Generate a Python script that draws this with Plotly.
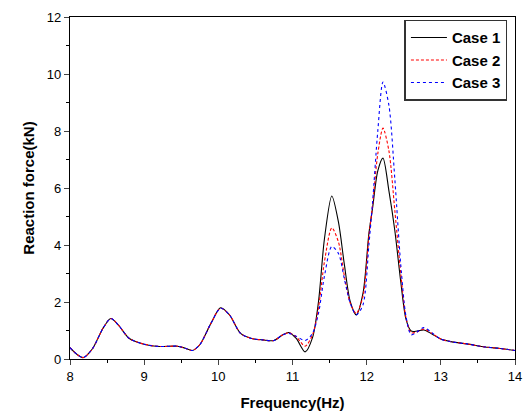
import plotly.graph_objects as go

freq = [8.0, 8.1, 8.18, 8.3, 8.45, 8.55, 8.65, 8.8, 9.0, 9.2, 9.45, 9.55, 9.65, 9.75, 9.9,
        10.03, 10.15, 10.3, 10.45, 10.6, 10.75, 10.87, 10.95, 11.05, 11.17, 11.27, 11.35,
        11.43, 11.53, 11.62, 11.7, 11.78, 11.86, 11.95, 12.03, 12.08, 12.15, 12.22, 12.3,
        12.38, 12.46, 12.53, 12.6, 12.68, 12.77, 12.88, 13.0, 13.15, 13.35, 13.6, 13.8, 14.0]

case1 = [0.4, 0.15, 0.05, 0.35, 1.1, 1.42, 1.2, 0.72, 0.52, 0.44, 0.45, 0.38, 0.3, 0.5, 1.25,
         1.8, 1.55, 0.9, 0.72, 0.67, 0.65, 0.85, 0.93, 0.72, 0.25, 0.75, 2.0,
         4.2, 5.72, 4.8, 3.3, 2.0, 1.55, 2.3, 4.4, 5.3, 6.6, 7.05, 5.9,
         4.5, 2.7, 1.4, 0.98, 0.98, 1.02, 0.88, 0.7, 0.6, 0.53, 0.42, 0.37, 0.3]

case2 = [0.4, 0.15, 0.05, 0.35, 1.1, 1.42, 1.2, 0.72, 0.52, 0.44, 0.45, 0.38, 0.3, 0.5, 1.25,
         1.78, 1.55, 0.9, 0.72, 0.67, 0.65, 0.85, 0.92, 0.78, 0.45, 0.85, 1.8,
         3.4, 4.6, 4.1, 2.9, 1.95, 1.6, 2.2, 4.3, 5.4, 7.2, 8.1, 7.3,
         5.2, 3.0, 1.45, 0.92, 0.95, 1.05, 0.9, 0.7, 0.6, 0.53, 0.42, 0.37, 0.3]

case3 = [0.4, 0.15, 0.05, 0.35, 1.1, 1.42, 1.2, 0.72, 0.52, 0.44, 0.45, 0.38, 0.3, 0.5, 1.25,
         1.78, 1.55, 0.9, 0.72, 0.67, 0.65, 0.85, 0.9, 0.8, 0.65, 0.9, 1.6,
         2.9, 3.95, 3.7, 2.8, 1.95, 1.55, 1.9, 4.0, 5.5, 8.0, 9.72, 8.9,
         6.3, 3.3, 1.5, 0.85, 0.95, 1.1, 0.92, 0.7, 0.6, 0.53, 0.42, 0.37, 0.3]

names = ["<b>Case 1</b>", "<b>Case 2</b>", "<b>Case 3</b>"]
colors = ["black", "red", "blue"]
dashes = ["solid", "3px,2px", "dot"]

fig = go.Figure()
for y, n, c, d in zip([case1, case2, case3], names, colors, dashes):
    fig.add_trace(go.Scatter(x=freq, y=y, mode="lines", name=n,
                             line=dict(color=c, dash=d, width=1.1, shape="spline", smoothing=0.8)))

font_family = "Liberation Sans, Arial, sans-serif"
fig.update_layout(
    width=523, height=408,
    margin=dict(l=62, r=16, t=9, b=57, autoexpand=False),
    paper_bgcolor="white", plot_bgcolor="white",
    font=dict(family=font_family, size=13, color="black"),
    showlegend=True,
    legend=dict(x=0.983, y=0.992, xanchor="right", yanchor="top",
                bordercolor="#333", borderwidth=1.5, bgcolor="white",
                font=dict(size=15, family=font_family, color="black"),
                itemwidth=36, tracegroupgap=0),
)
fig.update_xaxes(range=[8, 14], dtick=1, ticks="outside", ticklen=5, tickwidth=1.2,
                 showline=True, linecolor="black", linewidth=1.2, mirror=True,
                 showgrid=False, zeroline=False, ticklabeloverflow="allow", automargin=False,
                 minor=dict(dtick=0.5, ticks="outside", ticklen=3, tickcolor="black"),
                 title=dict(text="<b>Frequency(Hz)</b>", font=dict(size=15), standoff=14))
fig.update_yaxes(range=[0, 12], dtick=2, ticks="outside", ticklen=5, tickwidth=1.2,
                 showline=True, linecolor="black", linewidth=1.2, mirror=True,
                 showgrid=False, zeroline=False, ticklabeloverflow="allow", automargin=False,
                 minor=dict(dtick=1, ticks="outside", ticklen=3, tickcolor="black"),
                 title=dict(text="<b>Reaction force(kN)</b>", font=dict(size=15), standoff=8))

fig.write_html("out.html")
